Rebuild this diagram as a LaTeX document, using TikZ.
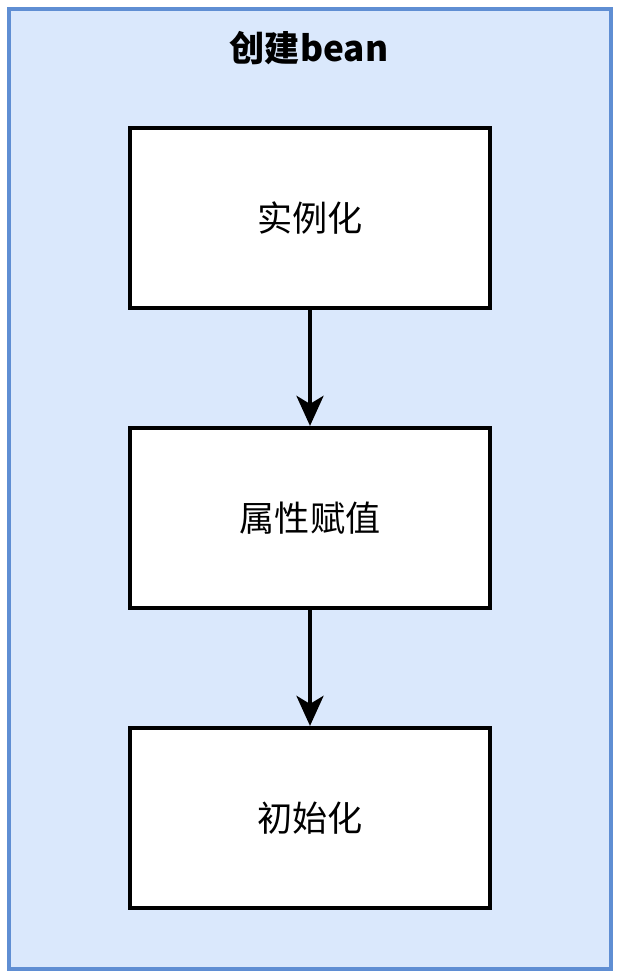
\documentclass[tikz,border=0pt]{standalone}
\usepackage{fontspec}
\setmainfont{Liberation Sans}
\newfontfamily\cjk{Noto Sans CJK SC}
\usetikzlibrary{positioning, arrows.meta}
\definecolor{beanblue}{HTML}{DAE8FC}
\definecolor{beanedge}{HTML}{5F8ED3}
\begin{document}
\begin{tikzpicture}[
      every node/.style={font=\cjk\fontsize{20}{24}\selectfont},
      stepbox/.style={draw, line width=2.4pt, fill=white, minimum width=7.2cm, minimum height=3.6cm, inner sep=0pt},
      flow/.style={-{Stealth[length=0.6cm, width=0.54cm, inset=0.16cm]}, line width=2.2pt},
    ]
    \useasboundingbox (0, 0) rectangle (12.4, -19.52);
    % container
    \node[draw=beanedge, line width=2pt, fill=beanblue, minimum width=12.04cm, minimum height=19.2cm, inner sep=0pt]
      (group) at (6.2, -9.78) {};
    \node[font=\cjk\bfseries\fontsize{20}{24}\selectfont] (title) at (6.18, -0.96) {创建bean};
    % steps
    \node[stepbox] (inst) at (6.2, -4.36) {实例化};
    \node[stepbox] (prop) at (6.2, -10.36) {属性赋值};
    \node[stepbox] (init) at (6.2, -16.36) {初始化};
    \draw[flow] (inst) -- (prop);
    \draw[flow] (prop) -- (init);
  \end{tikzpicture}
\end{document}
